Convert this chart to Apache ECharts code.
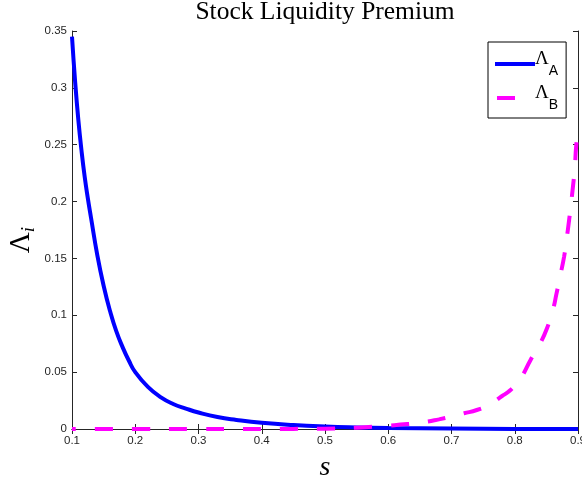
<!DOCTYPE html>
<html>
<head>
<meta charset="utf-8">
<script src="https://cdn.jsdelivr.net/npm/echarts@6/dist/echarts.min.js"></script>
<style>html,body{margin:0;padding:0;background:#fff;}#c{width:582px;height:480px;}</style>
</head>
<body>
<div id="c"></div>
<script>
const titleText = 'Stock Liquidity Premium';
const xTickMin = 0.1, xTickMax = 0.9, xTickStep = 0.1;
const yTickMin = 0, yTickMax = 0.35, yTickStep = 0.05;

const sA = [0.100,0.105,0.110,0.115,0.120,0.125,0.130,0.140,0.150,0.160,0.170,0.180,0.190,0.200,0.220,0.240,0.260,0.280,0.300,0.330,0.360,0.400,0.450,0.500,0.550,0.600,0.700,0.800,0.900];
const valA = [0.345,0.305,0.272,0.245,0.222,0.203,0.186,0.153,0.126,0.104,0.086,0.072,0.060,0.050,0.037,0.028,0.022,0.018,0.0145,0.0105,0.0080,0.0055,0.0035,0.0022,0.0014,0.0009,0.0004,0.0001,0];

const sB = [0.10,0.20,0.30,0.40,0.45,0.50,0.55,0.60,0.63,0.66,0.68,0.70,0.72,0.74,0.76,0.78,0.79,0.80,0.81,0.825,0.84,0.851,0.86,0.866,0.872,0.878,0.882,0.886,0.889,0.892,0.895,0.897,0.9];
const valB = [0,0,0,0,0.0001,0.0003,0.0012,0.003,0.0043,0.0063,0.0085,0.011,0.0138,0.0167,0.0215,0.029,0.0328,0.038,0.045,0.0607,0.075,0.0886,0.104,0.119,0.135,0.1515,0.167,0.184,0.198,0.213,0.23,0.248,0.262];

const seriesNames = ['A', 'B'];

const axisColor = '#262626';
const chart = echarts.init(document.getElementById('c'), null, {renderer: 'canvas'});

function pairs(xs, ys) { return xs.map((x, i) => [x, ys[i]]); }

const baseX = {
  type: 'value', min: xTickMin, max: xTickMax, interval: xTickStep,
  axisLine: {show: true, lineStyle: {color: axisColor, width: 1}},
  axisTick: {show: true, inside: true, length: 5, lineStyle: {color: axisColor}},
  splitLine: {show: false}
};
const baseY = {
  type: 'value', min: yTickMin, max: yTickMax, interval: yTickStep,
  axisLine: {show: true, lineStyle: {color: axisColor, width: 1}},
  axisTick: {show: true, inside: true, length: 5, lineStyle: {color: axisColor}},
  splitLine: {show: false}
};

const legendRich = {
  L: {fontFamily: 'Liberation Serif', fontSize: 19, lineHeight: 19, verticalAlign: 'top', color: '#000'},
  s: {fontFamily: 'Liberation Sans', fontSize: 14, lineHeight: 14, verticalAlign: 'bottom', color: '#000'},
  h: {fontSize: 1, lineHeight: 28, width: 0}
};
const hiddenSymbol = {color: 'rgba(0,0,0,0)', borderColor: 'rgba(0,0,0,0)', borderWidth: 0, opacity: 0};

chart.setOption({
  animation: false,
  backgroundColor: '#fff',
  title: {
    text: titleText, left: 320, top: -6, textAlign: 'center',
    textStyle: {fontFamily: 'Liberation Serif', fontSize: 25.5, fontWeight: 'normal', color: '#000'}
  },
  grid: {left: 72, right: 4, top: 31, bottom: 51, containLabel: false, outerBoundsMode: 'none'},
  legend: {
    orient: 'vertical', left: 488, top: 42,
    padding: [8, 8, 6, 5], itemGap: 6, itemWidth: 40, itemHeight: 14, itemTextGap: 1,
    backgroundColor: '#fff', borderColor: '#000', borderWidth: 1, borderRadius: 0,
    formatter: function (name) { return '{L|Λ}{s|' + name + '}{h|\u200b}'; },
    textStyle: {rich: legendRich, padding: [0, 0, 0, -5]},
    data: [
      {name: seriesNames[0], lineStyle: {width: 4, color: '#0000ff', type: 'solid'}, itemStyle: hiddenSymbol},
      {name: seriesNames[1], lineStyle: {width: 4, color: '#ff00ff', type: [18, 40], dashOffset: -2, cap: 'butt'}, itemStyle: hiddenSymbol}
    ]
  },
  xAxis: [
    Object.assign({}, baseX, {
      position: 'bottom',
      axisLabel: {show: true, margin: 6, color: axisColor, fontFamily: 'Liberation Sans', fontSize: 11.5},
      name: 's', nameLocation: 'middle', nameGap: 25, nameMoveOverlap: false,
      nameTextStyle: {fontFamily: 'Liberation Serif', fontStyle: 'italic', fontSize: 28, color: '#000'}
    }),
    Object.assign({}, baseX, {position: 'top', axisLabel: {show: false}})
  ],
  yAxis: [
    Object.assign({}, baseY, {
      position: 'left',
      axisLabel: {show: true, margin: 5, color: axisColor, fontFamily: 'Liberation Sans', fontSize: 11.5},
      name: '{L|Λ}{i|i}{h|\u200b}', nameLocation: 'middle', nameGap: 34, nameRotate: 90, nameMoveOverlap: false,
      nameTextStyle: {
        padding: [0, 20, 0, 0],
        rich: {
          L: {fontFamily: 'Liberation Serif', fontSize: 29, lineHeight: 29, verticalAlign: 'top', color: '#000'},
          i: {fontFamily: 'Liberation Serif', fontStyle: 'italic', fontSize: 19, lineHeight: 19, verticalAlign: 'bottom', color: '#000'},
          h: {fontSize: 1, lineHeight: 31, width: 0}
        }
      }
    }),
    Object.assign({}, baseY, {position: 'right', axisLabel: {show: false}})
  ],
  series: [
    {
      name: seriesNames[0], type: 'line', xAxisIndex: 0, yAxisIndex: 0,
      data: pairs(sA, valA), showSymbol: false, symbol: 'none',
      smooth: true,
      lineStyle: {color: '#0000ff', width: 4},
      itemStyle: {color: '#0000ff'}
    },
    {
      name: seriesNames[1], type: 'line', xAxisIndex: 0, yAxisIndex: 0,
      data: pairs(sB, valB), showSymbol: false, symbol: 'none',
      smooth: true,
      lineStyle: {color: '#ff00ff', width: 4, type: [18, 19], dashOffset: 14},
      itemStyle: {color: '#ff00ff'}
    }
  ]
});
</script>
</body>
</html>
